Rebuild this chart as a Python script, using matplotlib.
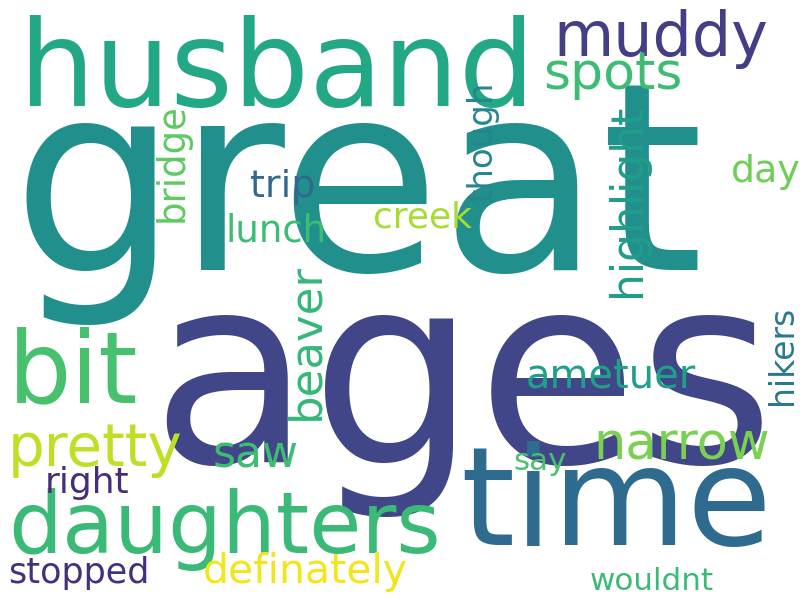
import matplotlib
matplotlib.use("Agg")
import matplotlib.pyplot as plt

words = ["great", "ages", "husband", "muddy", "spots", "time", "daughters", "bit",
         "pretty", "saw", "narrow", "right", "stopped", "definately", "wouldnt", "say",
         "ametuer", "lunch", "trip", "creek", "day", "beaver", "bridge", "though",
         "highlight", "hikers"]
sizes_px = [262, 262, 120, 62, 52, 138, 85, 100, 58, 44, 51, 36, 35, 41, 31, 31,
            40, 37, 38, 36, 38, 45, 37, 34, 44, 33]
colors = ["#21908d", "#404688", "#22a884", "#433e85", "#3dbc74", "#2f6b8e", "#3aba76",
          "#48c16e", "#bddf26", "#3fbc73", "#7ad151", "#472c7a", "#46307e", "#f2e51d",
          "#3aba76", "#4ac16d", "#1fa088", "#3dbc74", "#31688e", "#a8db34", "#6ece58",
          "#35b779", "#5ec962", "#25858e", "#1f9e89", "#2a788e"]
rotations = [0, 0, 0, 0, 0, 0, 0, 0, 0, 0, 0, 0, 0, 0, 0, 0, 0, 0, 0, 0, 0,
             90, 90, 90, 90, 90]
# layout anchors (pixel coordinates of baseline start)
anchors = [(12, 270), (150, 462), (18, 106), (553, 56), (543, 89), (460, 545),
           (8, 553), (8, 402), (8, 466), (213, 468), (593, 460), (45, 493),
           (8, 583), (203, 583), (590, 590), (513, 470), (526, 388), (226, 242),
           (250, 197), (373, 228), (731, 182), (318, 420), (183, 222), (492, 202),
           (640, 297), (792, 405)]

fig = plt.figure(figsize=(8, 6), dpi=100)
fig.patch.set_facecolor("white")
for w, s, c, r, (x, y) in zip(words, sizes_px, colors, rotations, anchors):
    fig.text(x / 800, 1 - y / 600, w, fontsize=s * 0.72, color=c, rotation=r,
             rotation_mode="anchor", ha="left", va="baseline", family="DejaVu Sans")
fig.savefig("out.png", dpi=100, facecolor="white")
